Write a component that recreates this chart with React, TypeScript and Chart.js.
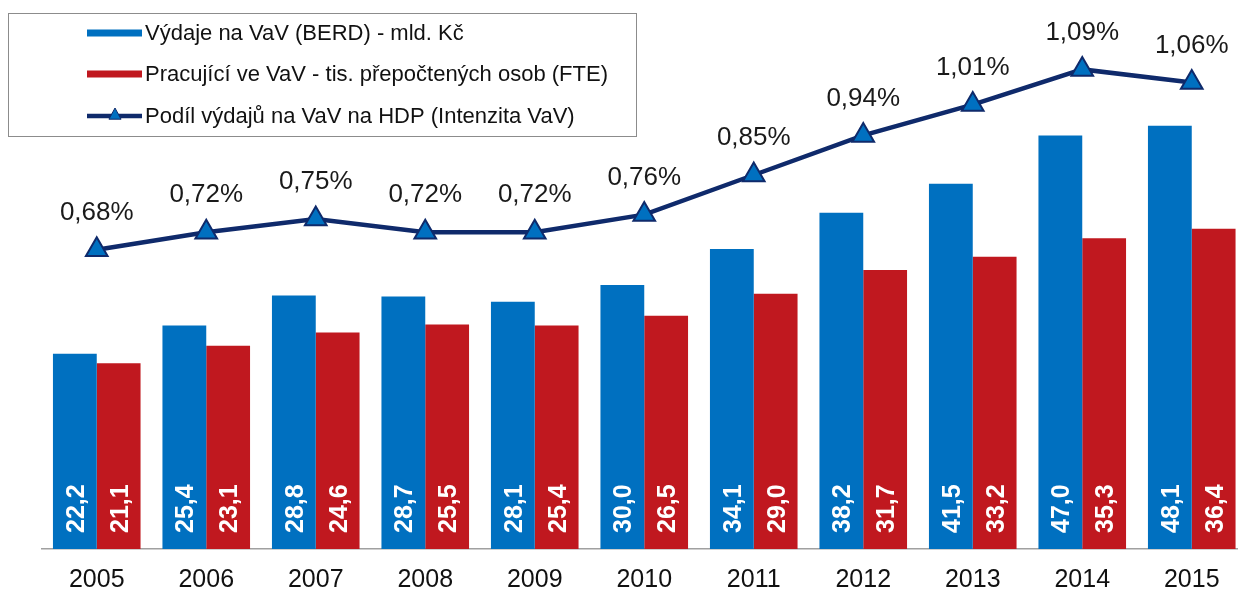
import React, { useEffect, useRef } from "react";
import { Chart, registerables } from "chart.js";

Chart.register(...registerables);

const years = ["2005", "2006", "2007", "2008", "2009", "2010", "2011", "2012", "2013", "2014", "2015"];
const berd = [22.2, 25.4, 28.8, 28.7, 28.1, 30.0, 34.1, 38.2, 41.5, 47.0, 48.1];
const fte = [21.1, 23.1, 24.6, 25.5, 25.4, 26.5, 29.0, 31.7, 33.2, 35.3, 36.4];
const intensity = [0.68, 0.72, 0.75, 0.72, 0.72, 0.76, 0.85, 0.94, 1.01, 1.09, 1.06];

const legendLabels = [
  "Výdaje na VaV (BERD) - mld. Kč",
  "Pracující ve VaV - tis. přepočtených osob (FTE)",
  "Podíl výdajů na VaV na HDP (Intenzita VaV)",
];

const BLUE = "#0070c0";
const RED = "#c0181f";
const NAVY = "#0f2a6b";
const FONT = '"Liberation Sans", Arial, sans-serif';
const CANVAS_W = 1261;

const labelsPlugin = {
  id: "customLabels",
  afterDatasetsDraw(chart: any) {
    const ctx = chart.ctx;
    const base = chart.chartArea.bottom;
    ctx.save();
    [1, 2].forEach((di) => {
      const meta = chart.getDatasetMeta(di);
      const data = chart.data.datasets[di].data as number[];
      meta.data.forEach((bar: any, i: number) => {
        ctx.save();
        ctx.translate(bar.x, base - 16);
        ctx.rotate(-Math.PI / 2);
        ctx.font = `bold 25px ${FONT}`;
        ctx.fillStyle = "#ffffff";
        ctx.textAlign = "left";
        ctx.textBaseline = "middle";
        ctx.fillText(data[i].toFixed(1).replace(".", ","), 0, 2);
        ctx.restore();
      });
    });
    const lmeta = chart.getDatasetMeta(0);
    const ldata = chart.data.datasets[0].data as number[];
    lmeta.data.forEach((pt: any, i: number) => {
      ctx.font = `26px ${FONT}`;
      ctx.fillStyle = "#1a1a1a";
      ctx.textAlign = "center";
      ctx.textBaseline = "middle";
      ctx.fillText(ldata[i].toFixed(2).replace(".", ",") + "%", pt.x, pt.y - 37);
    });
    ctx.restore();
  },
  afterDraw(chart: any) {
    const ctx = chart.ctx;
    ctx.save();
    ctx.fillStyle = "#ffffff";
    ctx.fillRect(8.5, 13.5, 628, 123);
    ctx.strokeStyle = "#8c8c8c";
    ctx.lineWidth = 1;
    ctx.strokeRect(8.5, 13.5, 628, 123);
    const rows = [33, 74, 116];
    ctx.fillStyle = BLUE;
    ctx.fillRect(87, rows[0] - 3.5, 55, 7);
    ctx.fillStyle = RED;
    ctx.fillRect(87, rows[1] - 3.5, 55, 7);
    ctx.strokeStyle = NAVY;
    ctx.lineWidth = 4.5;
    ctx.beginPath();
    ctx.moveTo(87, rows[2]);
    ctx.lineTo(142, rows[2]);
    ctx.stroke();
    const tx = 115, ty = rows[2] - 1, r = 7;
    ctx.beginPath();
    ctx.moveTo(tx, ty - r);
    ctx.lineTo(tx + r * 0.866, ty + r * 0.6);
    ctx.lineTo(tx - r * 0.866, ty + r * 0.6);
    ctx.closePath();
    ctx.fillStyle = BLUE;
    ctx.fill();
    ctx.lineWidth = 1;
    ctx.stroke();
    ctx.font = `22px ${FONT}`;
    ctx.fillStyle = "#111111";
    ctx.textAlign = "left";
    ctx.textBaseline = "middle";
    legendLabels.forEach((t, i) => ctx.fillText(t, 145, rows[i] + 1));
    ctx.restore();
  },
};

export default function App() {
  const ref = useRef<HTMLCanvasElement | null>(null);
  useEffect(() => {
    if (!ref.current) return;
    const chart = new Chart(ref.current, {
      type: "bar",
      data: {
        labels: years,
        datasets: [
          {
            type: "line",
            label: legendLabels[2],
            data: intensity,
            yAxisID: "y2",
            borderColor: NAVY,
            borderWidth: 4.5,
            pointStyle: "triangle",
            pointRadius: 12.5,
            pointBackgroundColor: BLUE,
            pointBorderColor: NAVY,
            pointBorderWidth: 2,
            tension: 0,
            order: 0,
          } as any,
          {
            type: "bar",
            label: legendLabels[0],
            data: berd,
            yAxisID: "y",
            backgroundColor: BLUE,
            categoryPercentage: 0.8,
            barPercentage: 1.0,
            order: 1,
          },
          {
            type: "bar",
            label: legendLabels[1],
            data: fte,
            yAxisID: "y",
            backgroundColor: RED,
            categoryPercentage: 0.8,
            barPercentage: 1.0,
            order: 1,
          },
        ],
      },
      options: {
        responsive: false,
        animation: false,
        layout: { padding: { left: 42, right: 3, top: 21, bottom: 0 } },
        plugins: { legend: { display: false }, tooltip: { enabled: false } },
        scales: {
          x: {
            grid: { display: false, drawTicks: false },
            border: { display: true, color: "#a0a0a0", width: 1.5 },
            ticks: {
              color: "#111111",
              font: { family: FONT, size: 25 },
              padding: 16,
              maxRotation: 0,
            },
            afterFit: (scale: any) => {
              scale.height = 46;
            },
          },
          y: { display: false, min: 0, max: 60 },
          y2: { display: false, min: 0, max: 1.2, position: "right" },
        },
      },
      plugins: [labelsPlugin],
    });
    return () => chart.destroy();
  }, []);
  return (
    <div style={{ position: "fixed", left: 0, top: 0, width: 1238, height: 595, overflow: "hidden", background: "#fff" }}>
      <canvas ref={ref} width={CANVAS_W} height={595} style={{ width: CANVAS_W, height: 595, display: "block" }} />
    </div>
  );
}
